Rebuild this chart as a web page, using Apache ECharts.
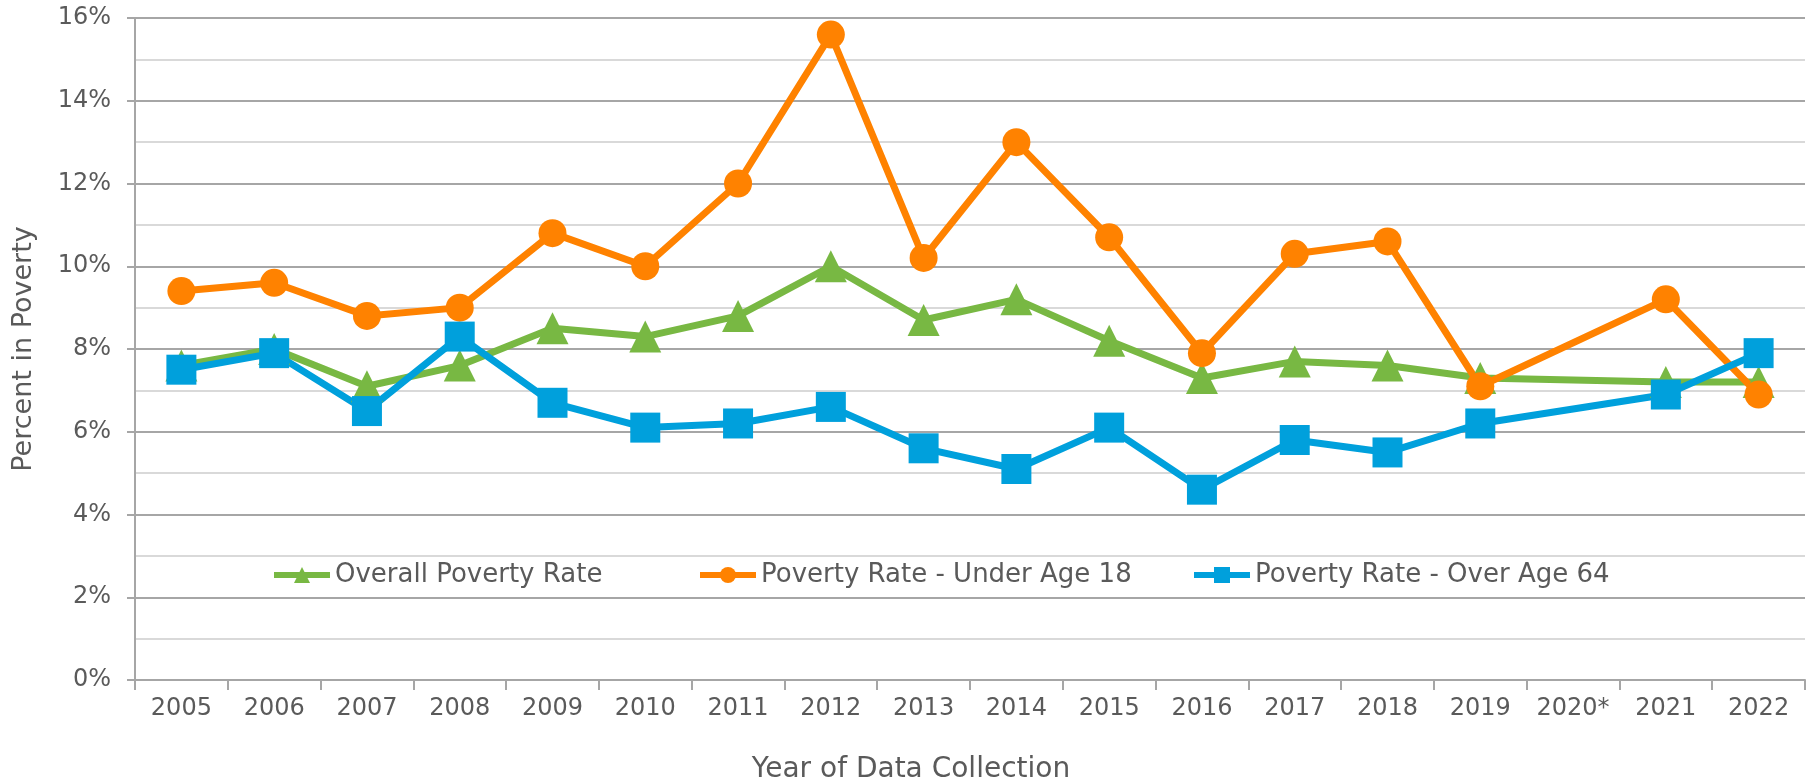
<!DOCTYPE html>
<html>
<head>
<meta charset="utf-8">
<title>Poverty Rates</title>
<script src="https://cdn.jsdelivr.net/npm/echarts@6/dist/echarts.min.js"></script>
<style>
html, body { margin: 0; padding: 0; background: #fff; }
#chart { width: 1814px; height: 782px; }
</style>
</head>
<body>
<div id="chart"></div>
<script>
// data (percent)
var years = ['2005', '2006', '2007', '2008', '2009', '2010', '2011', '2012', '2013',
             '2014', '2015', '2016', '2017', '2018', '2019', '2020*', '2021', '2022'];
var overallRate = [7.6, 8.0, 7.1, 7.6, 8.5, 8.3, 8.8, 10.0, 8.7, 9.2, 8.2, 7.3, 7.7, 7.6, 7.3, null, 7.2, 7.2];
var under18Rate = [9.4, 9.6, 8.8, 9.0, 10.8, 10.0, 12.0, 15.6, 10.2, 13.0, 10.7, 7.9, 10.3, 10.6, 7.1, null, 9.2, 6.9];
var over64Rate  = [7.5, 7.9, 6.5, 8.3, 6.7, 6.1, 6.2, 6.6, 5.6, 5.1, 6.1, 4.6, 5.8, 5.5, 6.2, null, 6.9, 7.9];
var seriesNames = ['Overall Poverty Rate', 'Poverty Rate - Under Age 18', 'Poverty Rate - Over Age 64'];

var textColor = '#5a5a5a';
var font = 'DejaVu Sans';

var chart = echarts.init(document.getElementById('chart'));

// excel puts legend entries in fixed columns, so one legend per entry
function legendAt(name, left) {
    return {
        data: [name],
        left: left,
        top: 562,
        itemWidth: 56,
        itemHeight: 20,
        padding: 0,
        lineStyle: { width: 6 },
        textStyle: { color: textColor, fontSize: 26, fontFamily: font }
    };
}

chart.setOption({
    animation: false,
    textStyle: { fontFamily: font },
    grid: { left: 135, right: 9, top: 18, bottom: 102, outerBoundsMode: 'none' },
    legend: [
        legendAt(seriesNames[0], 271),
        legendAt(seriesNames[1], 697),
        legendAt(seriesNames[2], 1191)
    ],
    xAxis: {
        type: 'category',
        data: years,
        boundaryGap: true,
        name: 'Year of Data Collection',
        nameLocation: 'middle',
        nameGap: 76,
        nameTextStyle: { color: textColor, fontSize: 28, fontFamily: font, padding: [0, 118, 0, 0] },
        axisLine: { lineStyle: { color: '#a6a6a6', width: 2 } },
        axisTick: { show: true, interval: 0, length: 10, lineStyle: { color: '#a6a6a6', width: 2 } },
        axisLabel: { color: textColor, fontSize: 24, margin: 17, interval: 0, hideOverlap: false, fontFamily: font }
    },
    yAxis: {
        type: 'value',
        min: 0,
        max: 16,
        interval: 2,
        name: 'Percent in Poverty',
        nameLocation: 'middle',
        nameGap: 98,
        nameTextStyle: { color: textColor, fontSize: 27, fontFamily: font },
        axisLine: { show: true, lineStyle: { color: '#a6a6a6', width: 2 } },
        axisTick: { show: true, length: 8, lineStyle: { color: '#a6a6a6', width: 2 } },
        axisLabel: { color: textColor, fontSize: 24, margin: 24, formatter: '{value}%', fontFamily: font },
        splitLine: { lineStyle: { color: '#a6a6a6', width: 2 } },
        minorTick: { show: false, splitNumber: 2 },
        minorSplitLine: { show: true, lineStyle: { color: '#d9d9d9', width: 2 } }
    },
    series: [
        {
            name: seriesNames[0],
            type: 'line',
            data: overallRate,
            connectNulls: true,
            symbol: 'triangle',
            symbolSize: 32,
            color: '#78b843',
            lineStyle: { width: 7 }
        },
        {
            name: seriesNames[1],
            type: 'line',
            data: under18Rate,
            connectNulls: true,
            symbol: 'circle',
            symbolSize: 28,
            color: '#ff8200',
            lineStyle: { width: 7 }
        },
        {
            name: seriesNames[2],
            type: 'line',
            data: over64Rate,
            connectNulls: true,
            symbol: 'rect',
            symbolSize: 30,
            color: '#00a0dc',
            lineStyle: { width: 7 }
        }
    ]
});
</script>
</body>
</html>
